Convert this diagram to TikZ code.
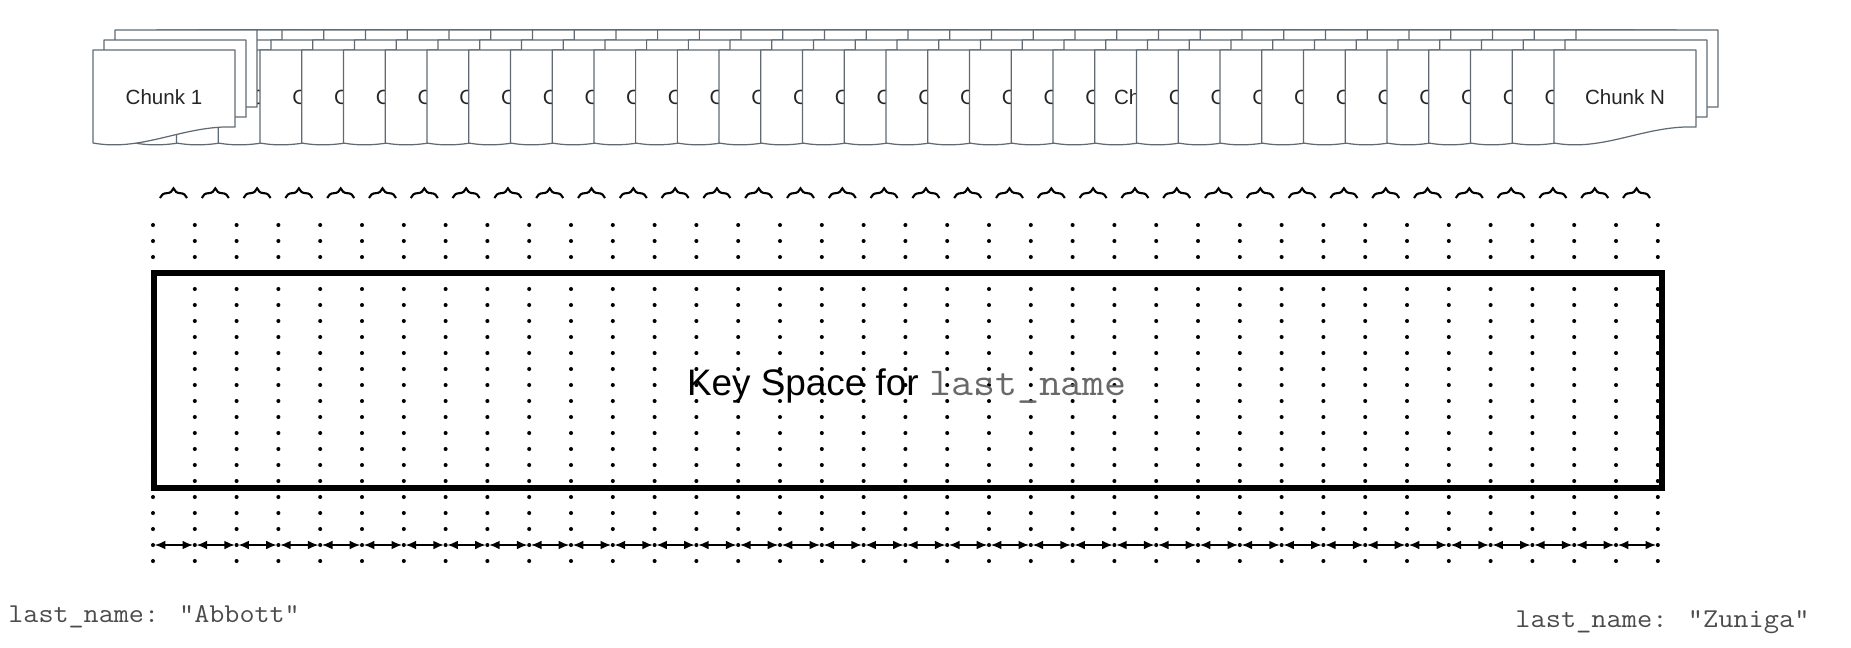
\documentclass[tikz,border=0pt]{standalone}
\usepackage{fontspec}
\usepackage{graphicx}
\setmainfont{Liberation Sans}
\usetikzlibrary{arrows.meta,decorations.pathreplacing}
\definecolor{pagegray}{RGB}{96,106,116}
\definecolor{keygray}{RGB}{105,105,105}
\definecolor{labelgray}{RGB}{75,75,75}
\tikzstyle{page} = [draw=pagegray, fill=white, line width=0.7pt, line join=round]
\tikzstyle{chunklabel} = [inner sep=0pt, text=black!85, font=\fontsize{11.7}{14}\selectfont]
\tikzstyle{keybrace} = [decorate, decoration={brace, amplitude=5.5pt}, line width=1.2pt]
\tikzstyle{span} = [{Latex[length=6pt,width=5pt]}-{Latex[length=6pt,width=5pt]}, line width=0.9pt, shorten <=1pt, shorten >=1pt]
\tikzstyle{keyrange} = [draw, line width=3.2pt]
\tikzstyle{keylabel} = [inner sep=0pt, anchor=base west, text=labelgray,
  font=\ttfamily\fontsize{15.5}{18}\selectfont]

% one page of a chunk: left edge #1, top edge #2
\newcommand{\chunkpage}[2]{%
  \draw[page] ({#1},{#2}) -- ({#1+142},{#2}) -- ({#1+142},{#2+77})
    .. controls ({#1+90},{#2+75}) and ({#1+50},{#2+102}) .. ({#1},{#2+93}) -- cycle;}
% a stack of three pages
\newcommand{\chunkstack}[1]{%
  \chunkpage{#1+22}{30}
  \chunkpage{#1+11}{40}
  \chunkpage{#1}{50}}
% typewriter text, a little wider
\newcommand{\widett}[2]{\scalebox{#1}[1]{\ttfamily #2}}

\begin{document}
\begin{tikzpicture}[x=0.02cm, y=-0.02cm]
\useasboundingbox (0,0) rectangle (1851,647);
%
% chunks, each one over the one before
\foreach \j in {1,...,34} {
  \pgfmathsetmacro{\x}{93+41.74*\j}
  \pgfmathsetmacro{\tx}{\j==24 ? \x+19 : \x+32}
  \pgfmathtruncatemacro{\k}{\j+1}
  \chunkstack{\x}
  \ifnum\j>2
    \node[chunklabel, anchor=west] (chunk\k) at (\tx,97) {\ifnum\j=24 Ch\else C\fi};
  \fi
}
\chunkstack{93}
\node[chunklabel] (chunk1) at (164,97) {Chunk 1};
\chunkstack{1554}
\node[chunklabel] (chunkN) at (1625,97) {Chunk N};
%
% dotted columns
\foreach \c in {0,...,36} {
  \coordinate (col\c) at ({153+41.8*\c},545);
  \foreach \r in {0,...,21}
    \fill ({153+41.8*\c},{225+16*\r}) circle[radius=1.15pt];
}
%
% braces and ranges between columns
\foreach \c in {0,...,35} {
  \pgfmathtruncatemacro{\n}{\c+1}
  \draw[keybrace] ({153+41.8*\c+7},198) -- ({153+41.8*\c+34},198);
  \draw[span] (col\c) -- (col\n);
}
%
\draw[keyrange] (154,273) rectangle (1662,488);
\node[anchor=base, inner sep=0pt, font=\fontsize{21}{25}\selectfont] (keytext) at (907,395)
  {Key Space for \textcolor{keygray}{\fontsize{22.5}{25}\selectfont\widett{1.08}{last\_name}}};
%
\node[keylabel] (lowkey) at (8,622) {\widett{1.075}{last\_name: "Abbott"}};
\node[keylabel] (highkey) at (1515,627) {\widett{1.085}{last\_name: "Zuniga"}};
\end{tikzpicture}
\end{document}
